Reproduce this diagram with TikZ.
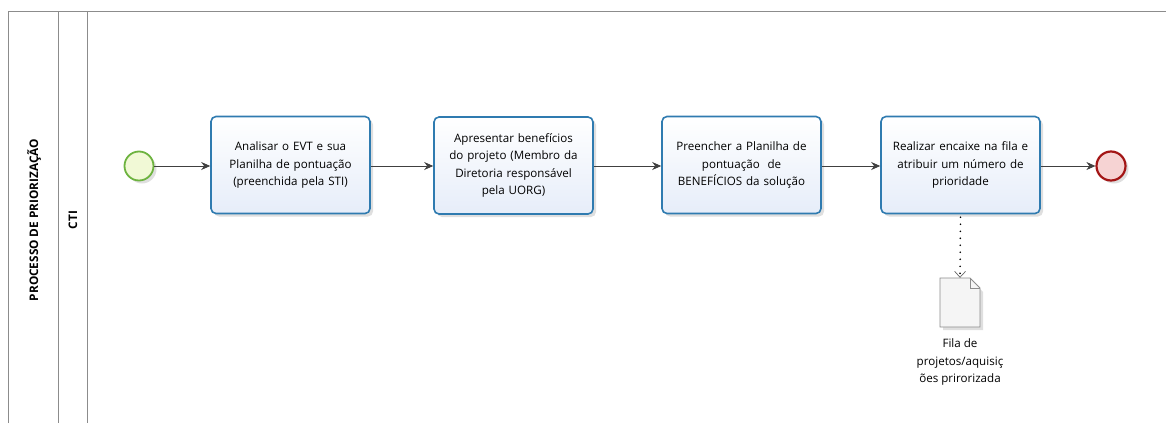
\documentclass[tikz,border=0pt]{standalone}
\usepackage{fontspec}
\setmainfont{Open Sans}
\usetikzlibrary{arrows.meta,shadows,positioning}
\definecolor{taskborder}{HTML}{2F7BB0}
\definecolor{taskfill}{HTML}{E6EDF9}
\definecolor{startborder}{HTML}{6DB33F}
\definecolor{startfill}{HTML}{F1F9D6}
\definecolor{endborder}{HTML}{A31515}
\definecolor{endfill}{HTML}{F6D3D3}
\definecolor{poolline}{HTML}{8C8C8C}
\tikzset{
  task/.style={draw=taskborder, line width=1.6pt, rounded corners=5pt,
    top color=white, bottom color=taskfill, minimum width=159pt, minimum height=97pt,
    align=center, font=\fontsize{11.6}{17.5}\selectfont, text width=150pt, inner sep=2pt,
    drop shadow={shadow xshift=3pt, shadow yshift=-3pt, opacity=0.25, fill=gray}},
  startev/.style={circle, draw=startborder, line width=1.8pt, fill=startfill,
    minimum size=29pt, inner sep=0pt,
    drop shadow={shadow xshift=3pt, shadow yshift=-3pt, opacity=0.25, fill=gray}},
  endev/.style={circle, draw=endborder, line width=2.2pt, fill=endfill,
    minimum size=29pt, inner sep=0pt,
    drop shadow={shadow xshift=3pt, shadow yshift=-3pt, opacity=0.25, fill=gray}},
  flow/.style={draw=black!75, line width=0.9pt, -{Stealth[length=9pt,width=8pt]}},
  assoc/.style={draw=black, line width=1.8pt, line cap=round, dash pattern=on 0pt off 7pt,
    -{Straight Barb[length=6pt,width=11pt,line width=0.7pt,color=black!60]}},
  pool/.style={draw=poolline, line width=1pt},
  label/.style={align=center, font=\fontsize{11.6}{17.5}\selectfont},
}
\begin{document}
\begin{tikzpicture}[x=1pt,y=-1pt]
\useasboundingbox (0,0) rectangle (1166,423);
% pool and lane
\draw[pool] (8,423) -- (8,11) -- (1166,11);
\draw[pool] (58,11) -- (58,423);
\draw[pool] (87,11) -- (87,423);
\node[rotate=90, font=\bfseries\fontsize{11.8}{14}\selectfont] (poolname) at (34,220) {PROCESSO DE PRIORIZAÇÃO};
\node[rotate=90, font=\bfseries\fontsize{11.8}{14}\selectfont] (lanename) at (73,220) {CTI};
% events and tasks
\node[startev] (start) at (139,166) {};
\node[task] (t1) at (290.5,165) {Analisar o EVT e sua\\Planilha de pontuação\\(preenchida pela STI)};
\node[task] (t2) at (513.5,165.5) {Apresentar benefícios\\do projeto (Membro da\\Diretoria responsável\\pela UORG)};
\node[task] (t3) at (741.5,165) {Preencher a Planilha de\\pontuação\ \ de\\BENEFÍCIOS da solução};
\node[task] (t4) at (960.5,165) {Realizar encaixe na fila e\\atribuir um número de\\prioridade};
\node[endev] (end) at (1111,166) {};
% data object
\fill[gray, opacity=0.25] (943,281) -- (972,281) -- (983,292) -- (983,330) -- (943,330) -- cycle;
\draw[draw=poolline, fill=white!96!black, line width=0.8pt] (940,278) -- (970,278) -- (980,288) -- (980,327) -- (940,327) -- cycle;
\draw[draw=poolline, line width=0.8pt] (970,278) -- (970,288) -- (980,288);
\node[minimum width=40pt, minimum height=49pt, inner sep=0pt] (doc) at (960,302.5) {};
\node[label] (doclabel) at (960,362) {Fila de\\projetos/aquisiç\\ões prirorizada};
% flows
\draw[flow] (start) -- (t1.west |- start);
\draw[flow] (t1.east |- start) -- (t2.west |- start);
\draw[flow] (t2.east |- start) -- (t3.west |- start);
\draw[flow] (t3.east |- start) -- (t4.west |- start);
\draw[flow] (t4.east |- start) -- (end);
\draw[assoc] ([yshift=-3pt]t4.south) -- (doc.north);
\end{tikzpicture}
\end{document}
